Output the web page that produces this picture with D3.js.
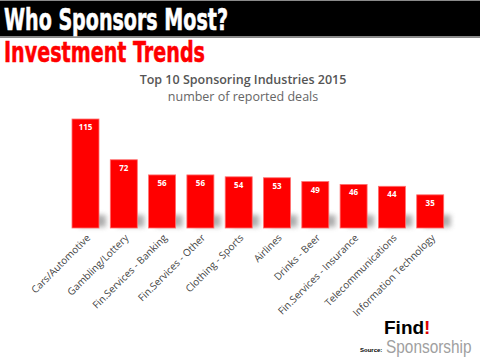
<!DOCTYPE html>
<html><head><meta charset="utf-8">
<script src="https://cdn.jsdelivr.net/npm/d3@7"></script>
<style>body{margin:0;background:#fff}svg{display:block}</style>
</head><body>
<script>
const categories = ["Cars/Automotive","Gambling/Lottery","Fin.Services - Banking","Fin.Services - Other","Clothing - Sports","Airlines","Drinks - Beer","Fin.Services - Insurance","Telecommunications","Information Technology"];
const deals = [115,72,56,56,54,53,49,46,44,35];
const headline = "Who Sponsors Most?";
const subhead = "Investment Trends";
const chartTitle = "Top 10 Sponsoring Industries 2015";
const chartSubtitle = "number of reported deals";

const W=480,H=360;
const svg=d3.select("body").append("svg").attr("width",W).attr("height",H);
const defs=svg.append("defs");
defs.append("filter").attr("id","blur").attr("x","-50%").attr("y","-50%").attr("width","200%").attr("height","200%")
  .append("feGaussianBlur").attr("stdDeviation",2.5);

// header bar
svg.append("rect").attr("x",0).attr("y",0).attr("width",W).attr("height",38).attr("fill","#8a8a8a");
svg.append("rect").attr("x",0).attr("y",1).attr("width",W).attr("height",35).attr("fill","#000");
svg.append("text").attr("x",4).attr("y",30).text(headline)
  .attr("font-family","'Liberation Sans Narrow','DejaVu Sans Condensed',sans-serif").attr("font-weight","bold")
  .attr("font-size",31).attr("fill","#fff").attr("stroke","#fff").attr("stroke-width",0.6)
  .attr("textLength",224).attr("lengthAdjust","spacingAndGlyphs");
svg.append("text").attr("x",4).attr("y",62).text(subhead)
  .attr("font-family","'Liberation Sans Narrow','DejaVu Sans Condensed',sans-serif").attr("font-weight","bold")
  .attr("font-size",29).attr("fill","#ff0000").attr("stroke","#ff0000").attr("stroke-width",0.5)
  .attr("textLength",201).attr("lengthAdjust","spacingAndGlyphs");

svg.append("text").attr("x",243).attr("y",84).attr("text-anchor","middle").text(chartTitle)
  .attr("font-family","'Open Sans',sans-serif").attr("font-weight","600").attr("font-size",12.5).attr("fill","#555");
svg.append("text").attr("x",243).attr("y",101).attr("text-anchor","middle").text(chartSubtitle)
  .attr("font-family","'Open Sans',sans-serif").attr("font-size",12.5).attr("fill","#666");

const x=d3.scaleBand().domain(categories).range([60.7,455]).padding(0.295);
const y=d3.scaleLinear().domain([0,115]).range([228,119]);

const g=svg.append("g");
// shadows
g.selectAll("rect.sh").data(deals).join("rect").attr("class","sh")
  .attr("x",(d,i)=>x(categories[i])+7).attr("y",y(0)-13).attr("width",x.bandwidth()).attr("height",12)
  .attr("fill","#9a9a9a").attr("filter","url(#blur)").attr("opacity",0.8);
g.selectAll("rect.bar").data(deals).join("rect").attr("class","bar")
  .attr("x",(d,i)=>x(categories[i])).attr("y",d=>y(d)).attr("width",x.bandwidth()).attr("height",d=>y(0)-y(d))
  .attr("fill","#ff0000").attr("stroke","#ff7070").attr("stroke-width",0.8);
g.selectAll("text.val").data(deals).join("text").attr("class","val")
  .attr("x",(d,i)=>x(categories[i])+x.bandwidth()/2).attr("y",d=>y(d)+11).attr("text-anchor","middle")
  .text(d=>d).attr("font-family","'Open Sans',sans-serif").attr("font-weight","bold").attr("font-size",8).attr("fill","#fff");

// x axis labels
const ax=svg.append("g").attr("transform","translate(0,232)")
  .call(d3.axisBottom(x).tickSize(0).tickPadding(0));
ax.select(".domain").remove();
ax.selectAll("text").attr("font-family","'Open Sans',sans-serif").attr("font-size",10).attr("fill","#444")
  .attr("text-anchor","end").attr("dy","0.35em").attr("dx",0)
  .attr("transform","translate(3,4) rotate(-45)");

// logo
const logo=svg.append("text").attr("x",384).attr("y",334)
  .attr("font-family","'Liberation Sans',Arial,sans-serif").attr("font-weight","bold").attr("font-size",19).attr("fill","#000");
logo.append("tspan").text("Find");
logo.append("tspan").text("!").attr("fill","#e00000");
svg.append("text").attr("transform","translate(386,352.5) scale(0.88,1)").text("Sponsorship")
  .attr("font-family","'Liberation Sans',Arial,sans-serif").attr("font-size",17.5).attr("fill","#a0a0a0");
svg.append("text").attr("x",360).attr("y",352).text("Source:")
  .attr("font-family","'Liberation Sans',Arial,sans-serif").attr("font-weight","bold").attr("font-size",6).attr("fill","#000");
</script>
</body></html>
